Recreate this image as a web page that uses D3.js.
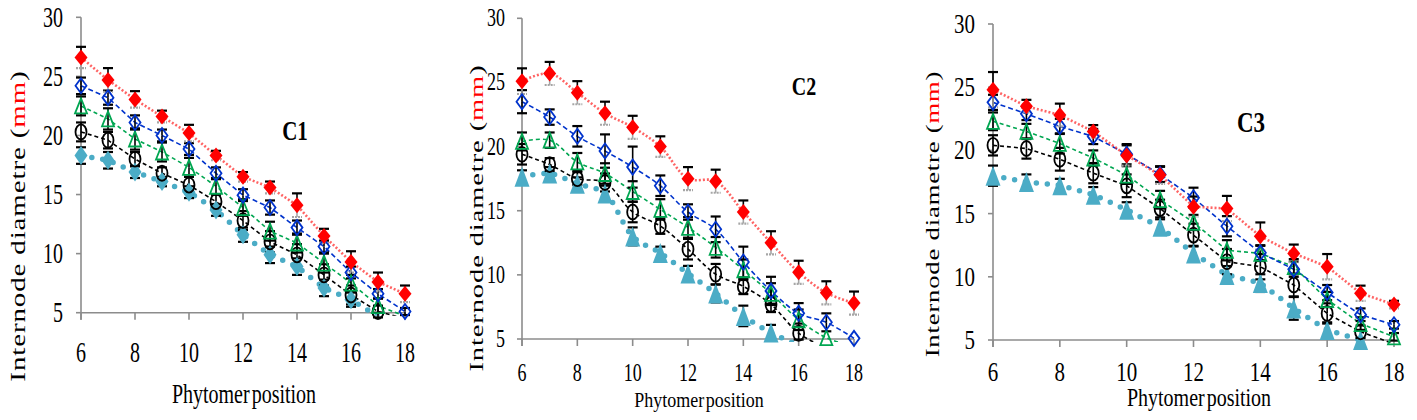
<!DOCTYPE html>
<html><head><meta charset="utf-8">
<script src="https://cdn.jsdelivr.net/npm/d3@7"></script>
<style>body{margin:0;background:#fff}svg{display:block}</style>
</head><body>
<svg id="chart" width="1417" height="420"></svg>
<script>
// ---------- data ----------
const positions = [6,7,8,9,10,11,12,13,14,15,16,17,18];
const xTickValues = [6,8,10,12,14,16,18];
const yTickValues = [5,10,15,20,25,30];
const panelNames = ["C1","C2","C3"];
const xTitle = "Phytomer position";
const yTitleParts = ["Internode diametre (", "mm", ")"];

// C1
const c1Red   = [26.6,24.7,23.05,21.6,20.2,18.3,16.5,15.6,14.1,11.5,9.3,7.6,6.6];
const c1Blue  = [24.2,23.2,21.1,20.0,18.85,16.8,14.95,13.9,12.2,10.6,8.4,6.6,5.1];
const c1Green = [22.5,21.4,19.7,18.6,17.3,15.7,13.9,11.9,10.9,9.2,7.5,5.6,4.7];
const c1Black = [20.3,19.6,18.0,16.8,15.8,14.4,12.8,11.0,9.9,8.2,6.5,5.1,4.5];
const c1Cyan  = [18.3,17.9,16.9,16.1,15.2,13.7,11.6,9.9,8.9,7.1,6.1,4.7,null];
const c1RedErr   = [0.9,1.0,0.7,0.5,0.7,0.4,0.4,0.5,1.0,0.6,0.9,0.8,0.7];
const c1BlueErr  = [0.7,0.6,0.6,0.5,0.5,0.5,0.5,0.6,0.6,0.5,0.5,0.4,0.3];
const c1GreenErr = [0.8,0.9,0.9,0.8,0.8,0.7,0.7,0.8,0.8,0.8,0.7,0.6,0];
const c1BlackErr = [0.8,0.7,0.6,0.5,0.7,0.6,0.8,0.9,0.9,0.9,0.8,0.5,0];
const c1CyanErr  = [0.7,0.7,0.5,0.4,0.5,0.5,0.6,0.7,0.7,0.7,0.6,0,0];

// C2
const c2Red   = [25.1,25.7,24.2,22.6,21.5,20.0,17.5,17.3,14.9,12.5,10.2,8.6,7.8];
const c2Blue  = [23.5,22.3,20.8,19.65,18.4,16.95,14.9,13.55,11.0,8.75,7.0,6.3,5.05];
const c2Green = [20.4,20.5,18.8,17.9,16.5,15.1,13.7,12.15,10.4,8.55,6.5,5.1,4.4];
const c2Black = [19.4,18.6,17.5,17.2,14.9,13.8,12.0,10.05,9.1,7.7,5.45,4.3,null];
const c2Cyan  = [17.65,17.9,17.1,16.35,13.0,11.7,10.1,8.55,6.8,5.5,4.5,null,null];
const c2RedErr   = [1.0,0.9,0.9,0.9,0.9,0.8,0.9,0.9,0.9,0.9,0.9,0.9,0.9];
const c2BlueErr  = [0.9,0.6,0.8,1.3,1.6,0.8,0.6,1.0,1.2,1.1,0.8,0.7,0];
const c2GreenErr = [0.7,0.6,0.7,0.8,0.8,0.8,0.8,0.8,0.8,0.8,0.8,0,0];
const c2BlackErr = [0.8,0.5,0.5,0.7,0.8,0.6,0.8,0.8,0.6,0.6,0.5,0,0];
const c2CyanErr  = [0.5,0.5,0.5,0.6,0.7,0.5,0.6,0.7,0.8,0.6,0,0,0];

// C3
const c3Red   = [24.8,23.5,22.8,21.5,19.6,18.05,15.55,15.4,13.2,11.85,10.8,8.7,7.8];
const c3Blue  = [23.8,22.9,21.9,21.1,19.7,18.1,16.25,14.0,11.9,10.6,8.75,7.0,6.2];
const c3Green = [22.3,21.5,20.55,19.4,18.05,16.1,14.3,12.1,11.85,10.8,8.2,6.3,5.25];
const c3Black = [20.4,20.15,19.3,18.2,17.2,15.4,13.3,11.2,10.8,9.35,7.1,5.65,4.7];
const c3Cyan  = [18.0,17.5,17.25,16.5,15.3,13.95,11.85,10.15,9.5,7.5,5.8,5.0,null];
const c3RedErr   = [1.4,0.5,0.9,0.5,0.8,0.7,0.8,1.0,1.1,0.7,1.0,0.6,0.3];
const c3BlueErr  = [0.6,0.5,0.6,0.6,0.8,0.6,0.8,0.8,0.6,0.6,0.6,0.5,0.3];
const c3GreenErr = [0.7,0.6,0.8,0.6,0.7,0.7,0.6,0.8,0.6,0.6,0.6,0.5,0.3];
const c3BlackErr = [0.8,0.8,0.9,0.8,0.9,0.7,0.9,1.0,1.0,0.9,0.8,0.5,0];
const c3CyanErr  = [0.8,0.6,0.5,0.6,0.6,0.6,0.6,0.7,0.7,0.9,0.6,0,0];

// ---------- styles / layout ----------
const styles = {
  cyan:  {line:"#4bacc6", width:5.5, dash:"0,11", cap:"round", fill:"#4bacc6", stroke:"none"},
  black: {line:"#000", width:1.6, dash:"4,3", cap:"butt", fill:"none", stroke:"#000", marker:"circle", mw:11, mh:15},
  green: {line:"#00a651", width:1.6, dash:"4,3", cap:"butt", fill:"none", stroke:"#00a651", marker:"triangle", mw:12, mh:15},
  blue:  {line:"#0033cc", width:1.6, dash:"5,3", cap:"butt", fill:"none", stroke:"#0033cc", marker:"diamond", mw:11, mh:15},
  red:   {line:"#ff3030", width:2.6, dash:"2,2", cap:"butt", fill:"#ff0000", stroke:"none", marker:"diamond", mw:13, mh:16, lineOpacity:0.75}
};

const panels = [
  {name:panelNames[0], x0:81, x1:405, yT:17.3, yB:312.7, tf:20, tsy:1.45, xLab:362, yLabGap:18,
   tt:{x:244, y:403, f:20, sy:1.4}, yt:{x:25, y:226, f:20, sy:1.45}, cl:{x:295, y:140, f:21, sy:1.3},
   curve:d3.curveLinear, cyanMarker:"diamond", cyanW:13, cyanH:19,
   series:{cyan:[c1Cyan,c1CyanErr], black:[c1Black,c1BlackErr], green:[c1Green,c1GreenErr], blue:[c1Blue,c1BlueErr], red:[c1Red,c1RedErr]}},
  {name:panelNames[1], x0:522, x1:854, yT:18.3, yB:339, tf:18, tsy:1.35, xLab:381, yLabGap:17,
   tt:{x:699, y:407, f:18, sy:1.2}, yt:{x:483, y:218, f:19, sy:1.5}, cl:{x:804, y:95, f:20, sy:1.3},
   curve:d3.curveCatmullRom.alpha(0.5), cyanMarker:"triangle", cyanW:15, cyanH:20,
   series:{cyan:[c2Cyan,c2CyanErr], black:[c2Black,c2BlackErr], green:[c2Green,c2GreenErr], blue:[c2Blue,c2BlueErr], red:[c2Red,c2RedErr]}},
  {name:panelNames[2], x0:993, x1:1394, yT:24, yB:340, tf:21, tsy:1.3, xLab:381, yLabGap:18,
   tt:{x:1199, y:406, f:20, sy:1.25}, yt:{x:939, y:214, f:19, sy:1.4}, cl:{x:1251, y:132, f:23, sy:1.25},
   curve:d3.curveLinear, cyanMarker:"triangle", cyanW:15, cyanH:20,
   series:{cyan:[c3Cyan,c3CyanErr], black:[c3Black,c3BlackErr], green:[c3Green,c3GreenErr], blue:[c3Blue,c3BlueErr], red:[c3Red,c3RedErr]}}
];

const svg = d3.select("#chart");
const FONT = "Liberation Serif, Times New Roman, serif";
const AXIS = "#8c8c8c";

function stext(parent, x, y, str, size, sy, anchor, weight) {
  const g = parent.append("g").attr("transform", `translate(${x},${y}) scale(1,${sy})`);
  return g.append("text").attr("x",0).attr("y",0).attr("text-anchor",anchor)
    .attr("font-family",FONT).attr("font-size",size).attr("font-weight",weight||"normal")
    .attr("fill","#000").text(str);
}

function markerPath(type, cx, cy, w, h) {
  const a = w/2, b = h/2;
  if (type === "diamond") return `M${cx},${cy-b}L${cx+a},${cy}L${cx},${cy+b}L${cx-a},${cy}Z`;
  if (type === "triangle") return `M${cx},${cy-b}L${cx+a},${cy+b}L${cx-a},${cy+b}Z`;
  return `M${cx-a},${cy}A${a},${b} 0 1,0 ${cx+a},${cy}A${a},${b} 0 1,0 ${cx-a},${cy}Z`;
}

panels.forEach((p, pi) => {
  const x = d3.scaleLinear().domain([6,18]).range([p.x0, p.x1]);
  const y = d3.scaleLinear().domain([5,30]).range([p.yB, p.yT]);
  const g = svg.append("g");

  const cid = "clip" + pi;
  svg.append("clipPath").attr("id", cid).append("rect")
    .attr("x", p.x0 - 20).attr("y", p.yT - 30).attr("width", p.x1 - p.x0 + 40).attr("height", p.yB - p.yT + 33);

  // axes
  g.append("line").attr("x1",p.x0).attr("x2",p.x0).attr("y1",y(30)).attr("y2",y(5)+7)
    .attr("stroke",AXIS).attr("stroke-width",1.6);
  g.append("line").attr("x1",p.x0).attr("x2",p.x1).attr("y1",y(5)).attr("y2",y(5))
    .attr("stroke",AXIS).attr("stroke-width",1.6);
  yTickValues.forEach(v => {
    g.append("line").attr("x1",p.x0-5).attr("x2",p.x0).attr("y1",y(v)).attr("y2",y(v))
      .attr("stroke",AXIS).attr("stroke-width",1.6);
    stext(g, p.x0 - p.yLabGap, y(v) + p.tf*0.66*p.tsy/2, String(v), p.tf, p.tsy, "end");
  });
  xTickValues.forEach(v => {
    g.append("line").attr("x1",x(v)).attr("x2",x(v)).attr("y1",y(5)).attr("y2",y(5)+7)
      .attr("stroke",AXIS).attr("stroke-width",1.6);
    stext(g, x(v), p.xLab, String(v), p.tf, p.tsy, "middle");
  });

  // titles
  stext(g, p.tt.x, p.tt.y, xTitle, p.tt.f, p.tt.sy, "middle").attr("word-spacing", -3);
  const yg = g.append("g").attr("transform", `translate(${p.yt.x},${p.yt.y}) rotate(-90) scale(${p.yt.sy},1)`);
  const yt = yg.append("text").attr("text-anchor","middle").attr("font-family",FONT).attr("font-size",p.yt.f).attr("letter-spacing",0.6);
  yt.append("tspan").attr("fill","#000").text(yTitleParts[0]);
  yt.append("tspan").attr("fill","#ff0000").text(yTitleParts[1]);
  yt.append("tspan").attr("fill","#000").text(yTitleParts[2]);
  stext(g, p.cl.x, p.cl.y, p.name, p.cl.f, p.cl.sy, "middle", "bold");

  const order = ["cyan","black","green","blue","red"];
  const pts = k => positions.map((pos,i) => ({pos, v:p.series[k][0][i], e:p.series[k][1][i]}));

  // lines
  order.forEach(k => {
    const st = styles[k];
    const line = d3.line().defined(d => d.v != null).x(d => x(d.pos)).y(d => y(d.v)).curve(p.curve);
    g.append("path").attr("d", line(pts(k))).attr("fill","none")
      .attr("stroke", st.line).attr("stroke-width", st.width).attr("stroke-dasharray", st.dash)
      .attr("stroke-linecap", st.cap).attr("stroke-opacity", st.lineOpacity || 1)
      .attr("clip-path", `url(#${cid})`);
  });

  // error bars
  order.forEach(k => {
    pts(k).filter(d => d.v != null && d.v >= 4.8 && d.e > 0).forEach(d => {
      const cx = x(d.pos), cy = y(d.v), top = y(d.v + d.e), bot = y(d.v - d.e);
      const lowCol = k === "red" ? "#a6a6a6" : "#000";
      g.append("line").attr("x1",cx).attr("x2",cx).attr("y1",top).attr("y2",cy).attr("stroke","#000").attr("stroke-width",1.6);
      g.append("line").attr("x1",cx-5).attr("x2",cx+5).attr("y1",top).attr("y2",top).attr("stroke","#000").attr("stroke-width",2.2);
      g.append("line").attr("x1",cx).attr("x2",cx).attr("y1",cy).attr("y2",bot).attr("stroke",lowCol).attr("stroke-width",1.6);
      g.append("line").attr("x1",cx-5).attr("x2",cx+5).attr("y1",bot).attr("y2",bot).attr("stroke",lowCol).attr("stroke-width",2.2)
        .attr("stroke-dasharray", k === "red" ? "2,1" : null);
    });
  });

  // markers
  order.forEach(k => {
    const st = styles[k];
    const type = k === "cyan" ? p.cyanMarker : st.marker;
    const w = k === "cyan" ? p.cyanW : st.mw, h = k === "cyan" ? p.cyanH : st.mh;
    pts(k).filter(d => d.v != null && d.v >= 4.8).forEach(d => {
      g.append("path").attr("d", markerPath(type, x(d.pos), y(d.v), w, h))
        .attr("fill", st.fill).attr("stroke", st.stroke).attr("stroke-width", st.stroke === "none" ? 0 : 1.8);
    });
  });
});
</script>
</body></html>
